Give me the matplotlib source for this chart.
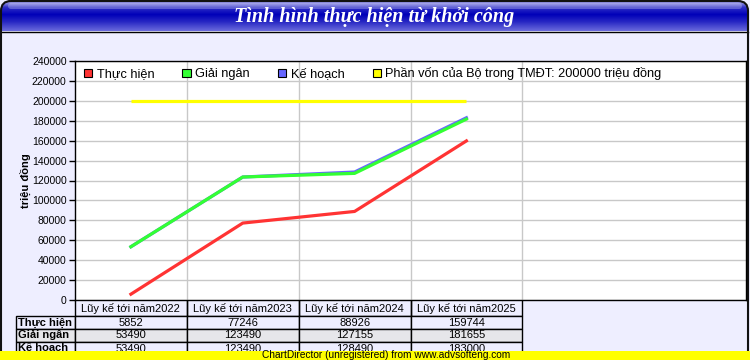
import matplotlib
matplotlib.use('Agg')
import matplotlib.pyplot as plt
from matplotlib.patches import Patch, Rectangle, FancyBboxPatch
from matplotlib.colors import LinearSegmentedColormap
import numpy as np

plt.rcParams['font.family'] = ['Liberation Sans', 'DejaVu Sans']

# Data
title = 'Tình hình thực hiện từ khởi công'
categories = ['Lũy kế tới năm2022', 'Lũy kế tới năm2023', 'Lũy kế tới năm2024', 'Lũy kế tới năm2025']
thuc_hien = [5852, 77246, 88926, 159744]
giai_ngan = [53490, 123490, 127155, 181655]
ke_hoach = [53490, 123490, 128490, 183000]
phan_von = 200000
series_names = ['Thực hiện', 'Giải ngân', 'Kế hoạch',
                'Phần vốn của Bộ trong TMĐT: 200000 triệu đồng']
y_label = 'triệu đồng'
y_ticks = list(range(0, 240001, 20000))

red = '#FF3333'
green = '#33FF33'
blue = '#6666FF'
yellow = '#FFFF00'
bg = '#EEEEFF'

W, H = 750, 360
fig = plt.figure(figsize=(W / 100, H / 100), dpi=100, facecolor=bg)

# background layer in pixel coords
bga = fig.add_axes([0, 0, 1, 1], zorder=0)
bga.set_xlim(0, W)
bga.set_ylim(H, 0)
bga.axis('off')

# title bar gradient
grad = LinearSegmentedColormap.from_list('tb', [
    (0.0, '#A0A0E8'), (0.08, '#8080E0'), (0.2, '#3030C8'),
    (0.45, '#0000B8'), (0.7, '#2828C4'), (1.0, '#6A6ADC')])
g = np.linspace(0, 1, 64).reshape(-1, 1)
im = bga.imshow(g, cmap=grad, extent=[1, 748, 31, 1], aspect='auto', zorder=1)
clip = FancyBboxPatch((1, 1), 747, 60, boxstyle='round,pad=0,rounding_size=10',
                      transform=bga.transData, facecolor='none', edgecolor='none')
bga.add_patch(clip)
im.set_clip_path(clip)
# sheen
bga.add_patch(FancyBboxPatch((8, 3), 734, 6, boxstyle='round,pad=0,rounding_size=3',
                             facecolor='white', alpha=0.25, edgecolor='none', zorder=2))
bga.plot([1, 748], [31.5, 31.5], color='black', lw=1, zorder=3)
# outer frame
bga.add_patch(FancyBboxPatch((1, 1), 747, 400, boxstyle='round,pad=0,rounding_size=10',
                             facecolor='none', edgecolor='#111111', lw=1.5, zorder=3))
bga.text(374, 17, title, color='white', fontsize=14.5, fontweight='bold', style='italic',
         family='Liberation Serif', ha='center', va='center', zorder=4)

# main plot
L, R, T, B = 75, 746, 61, 300
ax = fig.add_axes([L / W, 1 - B / H, (R - L) / W, (B - T) / H], zorder=2)
ax.set_facecolor('white')
x = np.arange(len(categories))
ax.plot([x[0], x[-1]], [phan_von, phan_von], color=yellow, lw=2.3, solid_capstyle='butt', zorder=3)
ax.plot(x, ke_hoach, color=blue, lw=2.3, zorder=4)
ax.plot(x, giai_ngan, color=green, lw=2.3, zorder=5)
ax.plot(x, thuc_hien, color=red, lw=2.3, zorder=6)

ax.set_xlim(-0.5, 5.5)
ax.set_ylim(0, 240000)
ax.set_yticks(y_ticks)
ax.set_yticklabels([str(v) for v in y_ticks], fontsize=7.5)
ax.set_xticks([0.5, 1.5, 2.5, 3.5])
ax.set_xticklabels([])
ax.tick_params(axis='x', length=0)
ax.tick_params(axis='y', length=4, width=1, pad=2)
ax.grid(True, color='#C8C8C8', lw=1)
ax.set_axisbelow(True)
for s in ax.spines.values():
    s.set_color('black')
    s.set_linewidth(1)
ax.set_ylabel(y_label, fontsize=8, fontweight='bold', labelpad=1)

handles = [Patch(facecolor=c, edgecolor='black', lw=0.8) for c in [red, green, blue, yellow]]
ax.legend(handles, series_names, ncol=4, loc='center left', bbox_to_anchor=(0.0, 0.946),
          frameon=False, fontsize=9.2, handlelength=0.65, handleheight=0.65,
          handletextpad=0.35, columnspacing=2.2, borderaxespad=0.3)

# data table under plot
rows = [thuc_hien, giai_ngan, ke_hoach]
cell_text = [[name] + [str(v) for v in r] for name, r in zip(series_names[:3], rows)]
slot_w = (R - L) / 6
lab_w = L - 16
widths = [lab_w] + [slot_w] * len(categories)
tab_w = sum(widths)
tb = ax.table(cellText=cell_text, colLabels=[''] + categories,
              colWidths=[w / tab_w for w in widths], cellLoc='center',
              bbox=[(16 - L) / (R - L), -(355 - B) / (B - T), tab_w / (R - L), 55 / (B - T)])
tb.auto_set_font_size(False)
row_bg = [bg, '#E6E6EA', bg]
for (r, c), cell in tb.get_celld().items():
    cell.set_linewidth(1)
    cell.set_edgecolor('black')
    cell.PAD = 0.04
    txt = cell.get_text()
    txt.set_fontsize(8)
    if r == 0:
        cell.set_height(16)
        cell.set_facecolor(bg)
        cell.visible_edges = 'LRB' if c > 0 else ''
    else:
        cell.set_height(13)
        cell.set_facecolor(row_bg[r - 1])
        if c == 0:
            txt.set_fontweight('bold')
            txt.set_ha('left')

# unregistered banner
ban = fig.add_axes([0, 0, 1, 9 / H], zorder=5)
ban.set_xlim(0, W)
ban.set_ylim(0, 9)
ban.axis('off')
ban.add_patch(Rectangle((0, 0), W, 9, facecolor=yellow, edgecolor='none'))
ban.text(386, 4.5, 'ChartDirector (unregistered) from www.advsofteng.com', fontsize=7.3,
         ha='center', va='center', color='black')

fig.savefig('out.png', dpi=100, facecolor=bg)
